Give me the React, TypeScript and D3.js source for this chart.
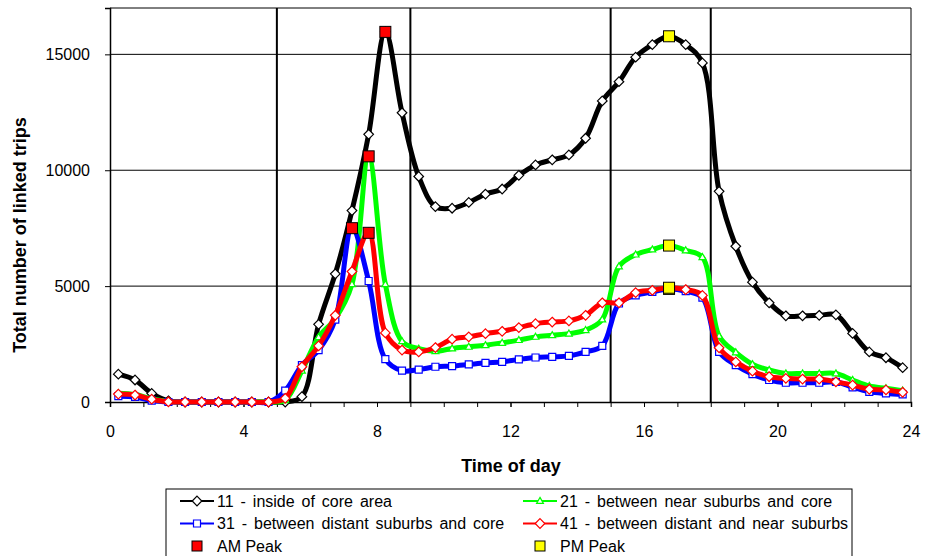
import React, { useEffect, useRef } from "react";
import * as d3 from "d3";

// half-hour midpoints (hours)
const hours = [
  0.25, 0.75, 1.25, 1.75, 2.25, 2.75, 3.25, 3.75, 4.25, 4.75, 5.25, 5.75,
  6.25, 6.75, 7.25, 7.75, 8.25, 8.75, 9.25, 9.75, 10.25, 10.75, 11.25, 11.75,
  12.25, 12.75, 13.25, 13.75, 14.25, 14.75, 15.25, 15.75, 16.25, 16.75, 17.25, 17.75,
  18.25, 18.75, 19.25, 19.75, 20.25, 20.75, 21.25, 21.75, 22.25, 22.75, 23.25, 23.75,
];

const insideCore = [
  1200, 950, 370, 50, 0, 0, 0, 0, 0, 0, 0, 230,
  3350, 5530, 8260, 11550, 15970, 12480, 9730, 8430, 8360, 8610, 8970, 9190,
  9780, 10230, 10450, 10660, 11380, 12990, 13820, 14880, 15420, 15780, 15420, 14630,
  9090, 6720, 5170, 4280, 3720, 3720, 3740, 3760, 2960, 2160, 1910, 1480,
];

const nearSuburbsCore = [
  380, 320, 140, 20, 0, 0, 0, 0, 0, 0, 80, 1350,
  2800, 3600, 5080, 10600, 5080, 2620, 2300, 2190, 2310, 2380, 2450, 2550,
  2670, 2810, 2880, 2950, 3100, 3560, 5850, 6360, 6580, 6750, 6540, 6250,
  2850, 2140, 1630, 1380, 1230, 1230, 1230, 1230, 950, 690, 590, 490,
];

const distantSuburbsCore = [
  250, 220, 60, 0, 0, 0, 0, 0, 0, 0, 490, 1590,
  2240, 3550, 7500, 5220, 1850, 1350, 1400, 1520, 1550, 1620, 1690, 1730,
  1840, 1920, 1950, 1990, 2160, 2420, 4250, 4600, 4750, 4880, 4780, 4500,
  2160, 1590, 1200, 950, 830, 830, 830, 870, 630, 440, 370, 330,
];

const distantNearSuburbs = [
  340, 300, 120, 10, 0, 0, 0, 0, 0, 0, 160, 1520,
  2420, 3740, 5630, 7300, 2980, 2240, 2160, 2350, 2710, 2810, 2950, 3050,
  3210, 3380, 3450, 3500, 3740, 4280, 4280, 4720, 4820, 4930, 4850, 4600,
  2340, 1730, 1330, 1090, 1020, 990, 990, 870, 730, 550, 520, 420,
];

const seriesNames = [
  "11 - inside of core area",
  "21 - between near suburbs and core",
  "31 - between distant suburbs and core",
  "41 - between distant and near suburbs",
];
const seriesColors = ["#000000", "#00ff00", "#0000ff", "#ff0000"];
const seriesMarkers = ["diamond", "triangle", "square", "diamond"];

// peak hour of each series (same order as above)
const amPeakHours = [8.25, 7.75, 7.25, 7.75];
const pmPeakHours = [16.75, 16.75, 16.75, 16.75];

const xTicks = [0, 4, 8, 12, 16, 20, 24];
const yTicks = [0, 5000, 10000, 15000];
const periodLines = [5, 9, 15, 18];

const FONT = "'Liberation Sans', Arial, sans-serif";

function markerPath(type: string) {
  if (type === "diamond") return "M0,-4.8L4.8,0L0,4.8L-4.8,0Z";
  if (type === "triangle") return "M0,-3.6L3.4,2.4L-3.4,2.4Z";
  return "M-3.5,-3.5L3.5,-3.5L3.5,3.5L-3.5,3.5Z";
}

export default function App() {
  const ref = useRef<SVGSVGElement>(null);

  useEffect(() => {
    const allSeries = [insideCore, nearSuburbsCore, distantSuburbsCore, distantNearSuburbs];
    const svg = d3.select(ref.current);
    svg.selectAll("*").remove();

    const left = 110, right = 911, top = 8, bottom = 402;
    const x = d3.scaleLinear().domain([0, 24]).range([left, right]);
    const y = d3.scaleLinear().domain([0, 17000]).range([bottom, top]);

    // plot border top/right + horizontal gridlines
    svg.append("line").attr("x1", left).attr("x2", right).attr("y1", top).attr("y2", top)
      .attr("stroke", "#000").attr("stroke-width", 1);
    svg.append("line").attr("x1", right).attr("x2", right).attr("y1", top).attr("y2", bottom)
      .attr("stroke", "#000").attr("stroke-width", 1);
    svg.selectAll(".grid").data(yTicks.filter((d) => d > 0)).join("line")
      .attr("class", "grid")
      .attr("x1", left).attr("x2", right)
      .attr("y1", (d) => y(d)).attr("y2", (d) => y(d))
      .attr("stroke", "#000").attr("stroke-width", 1);

    // vertical period lines
    svg.selectAll(".period").data(periodLines).join("line")
      .attr("class", "period")
      .attr("x1", (d) => x(d)).attr("x2", (d) => x(d))
      .attr("y1", top).attr("y2", bottom)
      .attr("stroke", "#000").attr("stroke-width", 2);

    // axes
    const xMinor = svg.append("g").attr("transform", `translate(0, ${bottom})`)
      .call(d3.axisBottom(x).tickValues(d3.range(0, 25)).tickSize(5).tickFormat(() => ""));
    xMinor.select(".domain").remove();
    const xAxis = svg.append("g").attr("transform", `translate(0, ${bottom})`)
      .call(d3.axisBottom(x).tickValues(xTicks).tickSize(5).tickPadding(19));
    xAxis.selectAll("text").attr("font-size", 16).attr("font-family", FONT).attr("fill", "#000");
    xAxis.select(".domain").attr("stroke-width", 1.5);

    const yAxis = svg.append("g").attr("transform", `translate(${left}, 0)`)
      .call(d3.axisLeft(y).tickValues(yTicks).tickSize(5).tickPadding(15).tickFormat(d3.format("d")));
    yAxis.selectAll("text").attr("font-size", 16).attr("font-family", FONT).attr("fill", "#000");
    yAxis.select(".domain").attr("stroke-width", 1.5);

    // titles
    svg.append("text")
      .attr("transform", "translate(20, 235) rotate(-90)")
      .attr("dy", "0.35em")
      .attr("text-anchor", "middle")
      .attr("font-family", FONT).attr("font-weight", "bold").attr("font-size", 18)
      .text("Total number of linked trips");
    svg.append("text")
      .attr("x", 511).attr("y", 472)
      .attr("text-anchor", "middle")
      .attr("font-family", FONT).attr("font-weight", "bold").attr("font-size", 18)
      .text("Time of day");

    // series lines and markers
    const line = d3.line<number>()
      .x((_, i) => x(hours[i]))
      .y((d) => y(d))
      .curve(d3.curveCatmullRom.alpha(0.5));

    allSeries.forEach((values, s) => {
      svg.append("path")
        .attr("d", line(values))
        .attr("fill", "none")
        .attr("stroke", seriesColors[s])
        .attr("stroke-width", 5)
        .attr("stroke-linejoin", "round");
      svg.selectAll(`.mk${s}`).data(values).join("path")
        .attr("class", `mk${s}`)
        .attr("transform", (d, i) => `translate(${x(hours[i])}, ${y(d)})`)
        .attr("d", markerPath(seriesMarkers[s]))
        .attr("fill", "#fff")
        .attr("stroke", seriesColors[s])
        .attr("stroke-width", 1.2);
    });

    // AM / PM peak squares
    const peaks = [
      ...amPeakHours.map((h, s) => ({ h, v: allSeries[s][hours.indexOf(h)], c: "#ff0000" })),
      ...pmPeakHours.map((h, s) => ({ h, v: allSeries[s][hours.indexOf(h)], c: "#ffff00" })),
    ];
    svg.selectAll(".peak").data(peaks).join("rect")
      .attr("class", "peak")
      .attr("x", (d) => x(d.h) - 5.5).attr("y", (d) => y(d.v) - 5.5)
      .attr("width", 11).attr("height", 11)
      .attr("fill", (d) => d.c)
      .attr("stroke", "#000").attr("stroke-width", 1);

    // legend
    const lg = svg.append("g");
    lg.append("rect").attr("x", 166).attr("y", 489).attr("width", 686).attr("height", 80)
      .attr("fill", "#fff").attr("stroke", "#000").attr("stroke-width", 1);
    const colX = [197, 540];
    const rowY = [501, 523.5, 546];
    seriesNames.forEach((name, s) => {
      const cx = colX[s % 2];
      const cy = rowY[Math.floor(s / 2)];
      lg.append("line").attr("x1", cx - 17).attr("x2", cx + 17).attr("y1", cy).attr("y2", cy)
        .attr("stroke", seriesColors[s]).attr("stroke-width", 2);
      lg.append("path").attr("transform", `translate(${cx}, ${cy})`)
        .attr("d", markerPath(seriesMarkers[s]))
        .attr("fill", "#fff").attr("stroke", seriesColors[s]).attr("stroke-width", 1.2);
      lg.append("text").attr("x", cx + 20).attr("y", cy).attr("dy", "0.35em")
        .attr("font-family", FONT).attr("font-size", 16).attr("word-spacing", 2.5)
        .text(name);
    });
    [["AM Peak", "#ff0000"], ["PM Peak", "#ffff00"]].forEach(([label, color], k) => {
      const cx = colX[k];
      const cy = rowY[2];
      lg.append("rect").attr("x", cx - 5).attr("y", cy - 5).attr("width", 10).attr("height", 10)
        .attr("fill", color).attr("stroke", "#000").attr("stroke-width", 1);
      lg.append("text").attr("x", cx + 20).attr("y", cy).attr("dy", "0.35em")
        .attr("font-family", FONT).attr("font-size", 16)
        .text(label);
    });
  }, []);

  return (
    <svg
      ref={ref}
      width={929}
      height={556}
      style={{ position: "fixed", left: 0, top: 0, background: "#fff", display: "block" }}
    />
  );
}
